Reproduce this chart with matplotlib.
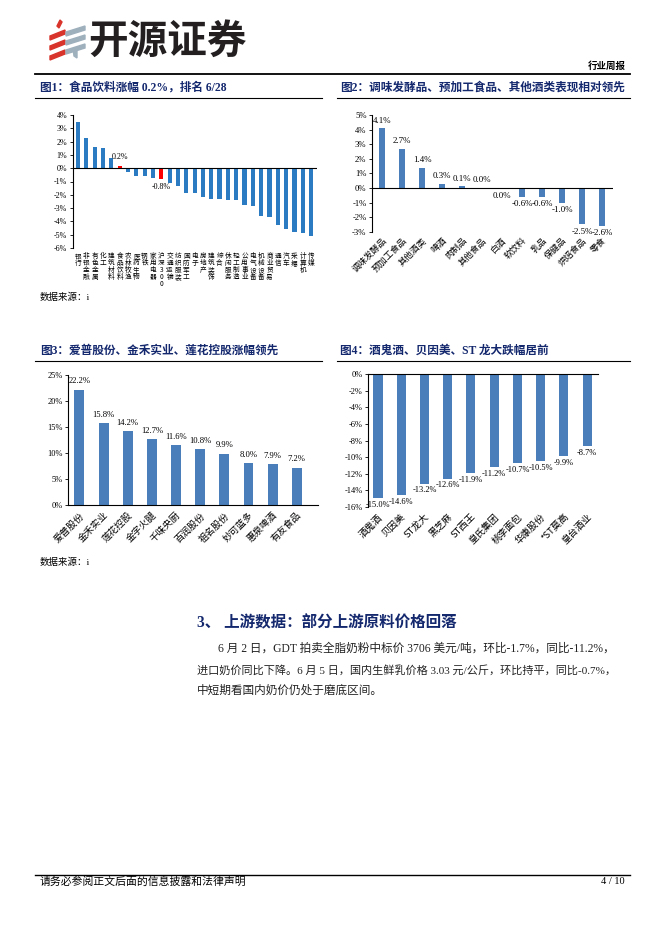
import matplotlib
matplotlib.use("Agg")
import matplotlib.pyplot as plt
from matplotlib.patches import Polygon
from matplotlib.lines import Line2D

plt.rcParams['font.family'] = ['Liberation Serif', 'Noto Sans CJK SC', 'DejaVu Sans']
plt.rcParams['axes.unicode_minus'] = False

# ---------------- 数据 ----------------
# 图1 申万行业周涨跌幅
ind_names = ['银行', '非银金融', '有色金属', '化工', '建筑材料', '食品饮料', '农林牧渔',
             '医药生物', '钢铁', '家用电器', '沪深300', '交通运输', '纺织服装', '国防军工',
             '电子', '房地产', '建筑装饰', '综合', '休闲服务', '轻工制造', '公用事业',
             '电气设备', '机械设备', '商业贸易', '通信', '汽车', '采掘', '计算机', '传媒']
ind_chg = [3.5, 2.3, 1.6, 1.5, 0.8, 0.2, -0.3, -0.6, -0.6, -0.7, -0.8, -1.1, -1.35,
           -1.85, -1.9, -2.2, -2.3, -2.3, -2.4, -2.4, -2.8, -2.85, -3.6, -3.65,
           -4.3, -4.6, -4.8, -4.85, -5.1]
ind_highlight = ['食品饮料', '沪深300']

# 图2 子行业
sub_names = ['调味发酵品', '预加工食品', '其他酒类', '啤酒', '肉制品', '其他食品',
             '白酒', '软饮料', '乳品', '保健品', '烘焙食品', '零食']
sub_chg = [4.1, 2.7, 1.4, 0.3, 0.1, 0.0, -0.02, -0.6, -0.6, -1.0, -2.5, -2.6]
sub_text = ['4.1%', '2.7%', '1.4%', '0.3%', '0.1%', '0.0%', '0.0%', '-0.6%', '-0.6%',
            '-1.0%', '-2.5%', '-2.6%']

# 图3 涨幅前十
up_names = ['爱普股份', '金禾实业', '莲花控股', '金字火腿', '千味央厨', '百润股份',
            '祖名股份', '妙可蓝多', '惠泉啤酒', '有友食品']
up_chg = [22.2, 15.8, 14.2, 12.7, 11.6, 10.8, 9.9, 8.0, 7.9, 7.2]

# 图4 跌幅前十
dn_names = ['酒鬼酒', '贝因美', 'ST龙大', '黑芝麻', 'ST西王', '皇氏集团', '桃李面包',
            '华康股份', '*ST莫高', '皇台酒业']
dn_chg = [-15.0, -14.6, -13.2, -12.6, -11.9, -11.2, -10.7, -10.5, -9.9, -8.7]

# ---------------- 页面 ----------------
W, H = 662, 936
fig = plt.figure(figsize=(W / 100, H / 100), dpi=100)
fig.patch.set_facecolor('white')

def fx(x):
    return x / W

def fy(y):
    return 1 - y / H

def hline(x0, x1, y, lw=0.8, color='black'):
    fig.add_artist(Line2D([fx(x0), fx(x1)], [fy(y), fy(y)], lw=lw, color=color))

def poly(pts, color):
    fig.add_artist(Polygon([(fx(a), fy(b)) for a, b in pts], closed=True,
                           color=color, transform=fig.transFigure))

NAVY = '#14286e'
BAR = '#4a7ebb'
BAR1 = '#2a7bc2'
CJK = ['Noto Sans CJK SC', 'DejaVu Sans']

# logo
red = '#d9342b'
gray = '#9fb0bd'
for dy in (0, 10, 20):
    poly([(50, 36 + dy), (65, 30 + dy), (65, 34 + dy), (50, 40 + dy)], red)
poly([(57, 26), (60, 20), (62, 22), (59, 28)], red)
for dy in (0, 9, 18):
    poly([(66, 32 + dy), (85, 26 + dy), (85, 30 + dy), (66, 36 + dy)], gray)
poly([(73, 49), (77, 48), (77, 58), (74, 56)], gray)
fig.text(fx(88), fy(41), '开源证券', family=CJK, fontsize=28.5, fontweight='bold',
         color='#231f20', va='center', ha='left')

fig.text(fx(626), fy(66), '行业周报', family=CJK, fontsize=6.8, fontweight='bold',
         ha='right', va='center')
hline(35, 630, 73.5, lw=1.3)

# 图标题
def chart_title(x, y, s, x0, x1):
    fig.text(fx(x), fy(y), s, fontsize=8.4, fontweight='bold', color=NAVY,
             ha='left', va='center')
    hline(x0, x1, y + 10, lw=0.8)

chart_title(40, 88, '图1：食品饮料涨幅 0.2%，排名 6/28', 35, 322)
chart_title(340, 88, '图2：调味发酵品、预加工食品、其他酒类表现相对领先', 337, 630)
chart_title(40, 351, '图3：爱普股份、金禾实业、莲花控股涨幅领先', 35, 322)
chart_title(340, 351, '图4：酒鬼酒、贝因美、ST 龙大跌幅居前', 337, 630)

fig.text(fx(40), fy(297), '数据来源：i', fontsize=6.8, ha='left', va='center')
fig.text(fx(40), fy(562), '数据来源：i', fontsize=6.8, ha='left', va='center')

def pct(v, pos=None):
    return '%d%%' % v

# ---------------- 图1 ----------------
ax1 = fig.add_axes([fx(73), fy(248), (317 - 73) / W, (248 - 115) / H])
x1 = list(range(len(ind_names)))
c1 = ['#ff0000' if n in ind_highlight else BAR1 for n in ind_names]
ax1.bar(x1, ind_chg, width=0.5, color=c1)
ax1.set_ylim(-6, 4)
ax1.set_xlim(-0.6, len(ind_names) - 0.3)
ax1.set_yticks(range(-6, 5))
ax1.yaxis.set_major_formatter(pct)
ax1.axhline(0, color='black', lw=0.8)
for s in ['top', 'right', 'bottom']:
    ax1.spines[s].set_visible(False)
ax1.spines['left'].set_linewidth(0.8)
ax1.tick_params(axis='y', labelsize=5.8, length=2, width=0.6, pad=2)
ax1.set_xticks(x1)
ax1.set_xticklabels(['\n'.join(n) for n in ind_names], family=CJK, fontsize=4.8,
                    linespacing=0.82)
ax1.tick_params(axis='x', length=0, pad=3)
for n in ind_highlight:
    i = ind_names.index(n)
    v = ind_chg[i]
    ax1.annotate('%.1f%%' % v, (i, v), xytext=(0, 3 if v > 0 else -3),
                 textcoords='offset points', ha='center',
                 va='bottom' if v > 0 else 'top', fontsize=5.8)

# ---------------- 图2 ----------------
ax2 = fig.add_axes([fx(372), fy(231.7), (613 - 372) / W, (231.7 - 115) / H])
x2 = list(range(len(sub_names)))
ax2.bar(x2, sub_chg, width=0.34, color=BAR)
ax2.set_ylim(-3, 5)
ax2.set_xlim(-0.5, len(sub_names) - 0.45)
ax2.set_yticks(range(-3, 6))
ax2.yaxis.set_major_formatter(pct)
ax2.axhline(0, color='black', lw=0.8)
for s in ['top', 'right', 'bottom']:
    ax2.spines[s].set_visible(False)
ax2.spines['left'].set_linewidth(0.8)
ax2.tick_params(axis='y', labelsize=6.2, length=2, width=0.6, pad=2)
ax2.set_xticks(x2)
ax2.set_xticklabels(sub_names, family=CJK, fontsize=6.4, rotation=45, ha='right',
                    va='top', rotation_mode='anchor')
ax2.tick_params(axis='x', length=0, pad=3)
for i, (v, t) in enumerate(zip(sub_chg, sub_text)):
    up = v >= 0
    ax2.annotate(t, (i, v), xytext=(0, 2.5 if up else -2.5), textcoords='offset points',
                 ha='center', va='bottom' if up else 'top', fontsize=6.4)

# ---------------- 图3 ----------------
ax3 = fig.add_axes([fx(68.3), fy(505), (318 - 68.3) / W, (505 - 375) / H])
x3 = list(range(len(up_names)))
ax3.bar(x3, up_chg, width=0.41, color=BAR)
ax3.set_ylim(0, 25)
ax3.set_xlim(-0.46, len(up_names) - 0.12)
ax3.set_yticks(range(0, 26, 5))
ax3.yaxis.set_major_formatter(pct)
for s in ['top', 'right']:
    ax3.spines[s].set_visible(False)
ax3.spines['left'].set_linewidth(0.8)
ax3.spines['bottom'].set_linewidth(0.8)
ax3.tick_params(axis='y', labelsize=6, length=2, width=0.6, pad=2)
ax3.set_xticks(x3)
ax3.set_xticklabels(up_names, family=CJK, fontsize=6.8, rotation=45, ha='right',
                    va='top', rotation_mode='anchor')
ax3.tick_params(axis='x', length=0, pad=4)
for i, v in enumerate(up_chg):
    ax3.annotate('%.1f%%' % v, (i, v), xytext=(0, 3), textcoords='offset points',
                 ha='center', va='bottom', fontsize=6.2)

# ---------------- 图4 ----------------
ax4 = fig.add_axes([fx(368), fy(506.7), (598 - 368) / W, (506.7 - 374.3) / H])
x4 = list(range(len(dn_names)))
ax4.bar(x4, dn_chg, width=0.39, color=BAR)
ax4.set_ylim(-16, 0)
ax4.set_xlim(-0.43, len(dn_names) - 0.53)
ax4.set_yticks(range(-16, 1, 2))
ax4.yaxis.set_major_formatter(pct)
for s in ['bottom', 'right']:
    ax4.spines[s].set_visible(False)
ax4.spines['left'].set_linewidth(0.8)
ax4.spines['top'].set_linewidth(0.8)
ax4.tick_params(axis='y', labelsize=6, length=2, width=0.6, pad=2)
ax4.set_xticks(x4)
ax4.set_xticklabels(dn_names, family=CJK, fontsize=6.8, rotation=45, ha='right',
                    va='top', rotation_mode='anchor')
ax4.tick_params(axis='x', length=0, pad=4)
for i, v in enumerate(dn_chg):
    ax4.annotate('%.1f%%' % v, (i, v), xytext=(0, -2), textcoords='offset points',
                 ha='center', va='top', fontsize=6)

# ---------------- 正文 ----------------
fig.text(fx(197), fy(623), '3、 上游数据：部分上游原料价格回落', fontsize=11.2,
         fontweight='bold', color=NAVY, ha='left', va='center')
body = ['6 月 2 日，GDT 拍卖全脂奶粉中标价 3706 美元/吨，环比-1.7%，同比-11.2%，',
        '进口奶价同比下降。6 月 5 日，国内生鲜乳价格 3.03 元/公斤，环比持平，同比-0.7%，',
        '中短期看国内奶价仍处于磨底区间。']
body_x = [218, 197, 197]
body_y = [649, 670, 691]
body_fs = [8.4, 8.0, 8.4]
for s, bx, by, fs in zip(body, body_x, body_y, body_fs):
    fig.text(fx(bx), fy(by), s, fontsize=fs, ha='left', va='center', color='#222222')

# 页脚
hline(35, 630, 875, lw=1.0)
fig.text(fx(40), fy(882), '请务必参阅正文后面的信息披露和法律声明', fontsize=7.8,
         ha='left', va='center')
fig.text(fx(625), fy(882), '4 / 10', fontsize=7.5, ha='right', va='center')

fig.savefig('out.png', dpi=100)
